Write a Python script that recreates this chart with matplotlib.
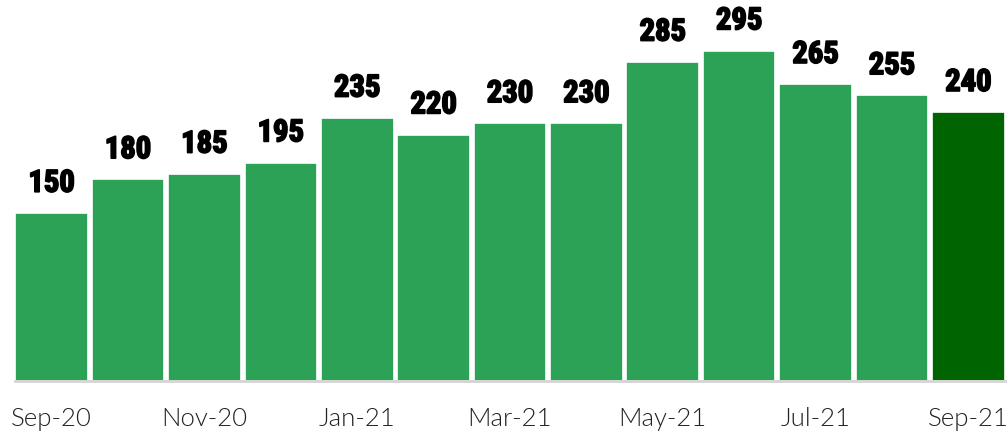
import matplotlib.pyplot as plt
import matplotlib.patheffects as pe
import numpy as np

# Valores mensais
meses = ["Sep-20", "Oct-20", "Nov-20", "Dec-20", "Jan-21", "Feb-21", "Mar-21",
         "Apr-21", "May-21", "Jun-21", "Jul-21", "Aug-21", "Sep-21"]
valores = [150, 180, 185, 195, 235, 220, 230, 230, 285, 295, 265, 255, 240]

verde = "#2ca257"
verde_escuro = "#006400"
cores = [verde] * (len(valores) - 1) + [verde_escuro]

fig = plt.figure(figsize=(10.08, 4.32), dpi=100)
ax = fig.add_axes([15 / 1008, 1 - 381 / 432, 990 / 1008, 381 / 432])

x = np.arange(len(valores))
barras = ax.bar(x, valores, width=0.95, color=cores, edgecolor="white", linewidth=1.2)

# Rótulos de valor acima das barras (contorno deixa o texto mais pesado)
for xi, v in zip(x, valores):
    ax.annotate(str(v), (xi, v), xytext=(0, 11), textcoords="offset points",
                ha="center", va="bottom", fontsize=22, fontweight="bold",
                family=["Roboto Condensed", "Liberation Sans Narrow", "Liberation Sans"],
                path_effects=[pe.withStroke(linewidth=1.3, foreground="black")])

ax.set_xlim(-0.48, len(valores) - 0.52)
ax.set_ylim(0, 381 / 1.12)

ax.set_xticks(x[::2])
ax.set_xticklabels(meses[::2], fontsize=18.5, color="#222222",
                   family=["Lato", "DejaVu Sans"], fontweight=300)
ax.tick_params(axis="x", length=0, pad=19)
ax.set_yticks([])

for lado in ["top", "right", "left"]:
    ax.spines[lado].set_visible(False)
ax.spines["bottom"].set_color("#d4d4d4")
ax.spines["bottom"].set_linewidth(2)

fig.savefig("out.png", dpi=100)
